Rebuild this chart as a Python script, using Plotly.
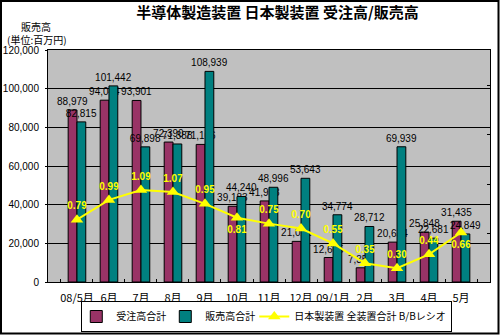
import plotly.graph_objects as go

months = ["08/5月", "6月", "7月", "8月", "9月", "10月", "11月", "12月",
          "09/1月", "2月", "3月", "4月", "5月"]
orders = [88979, 94044, 93901, 72390, 71166, 39183, 41938, 21021,
          12665, 7353, 20634, 25848, 31435]
sales = [82815, 101442, 69898, 71388, 108939, 44240, 48996, 53643,
         34774, 28712, 69939, 22681, 24849]
bb_ratio = [0.79, 0.99, 1.09, 1.07, 0.95, 0.81, 0.75, 0.70,
            0.55, 0.35, 0.30, 0.44, 0.66]
bb_label_pos = ["top center"] * 5 + ["bottom center"] + ["top center"] * 6 + ["bottom center"]

JP = "Noto Sans CJK JP"
NUM = "Liberation Sans, Arial"

fig = go.Figure()
fig.add_trace(go.Bar(
    x=months, y=orders, name="受注高合計",
    marker=dict(color="#993366", line=dict(color="black", width=1)),
    texttemplate="%{y:,}", textposition="outside", constraintext="none",
    textfont=dict(family=NUM, size=10, color="black"), cliponaxis=False,
))
fig.add_trace(go.Bar(
    x=months, y=sales, name="販売高合計",
    marker=dict(color="#008080", line=dict(color="black", width=1)),
    texttemplate="%{y:,}", textposition="outside", constraintext="none",
    textfont=dict(family=NUM, size=10, color="black"), cliponaxis=False,
))
fig.add_trace(go.Scatter(
    x=months, y=bb_ratio, name="日本製装置 全装置合計 B/Bレシオ",
    yaxis="y2", mode="lines+markers+text",
    line=dict(color="#FFFF00", width=2),
    marker=dict(symbol="triangle-up", size=11, color="#FFFF00"),
    texttemplate="<b>%{y:.2f}</b>", textposition=bb_label_pos,
    textfont=dict(family=NUM, size=10, color="#FFFF00"), cliponaxis=False,
))

pl, pr, pt, pb = 48, 490, 50, 282
pw, ph = pr - pl, pb - pt

fig.update_layout(
    width=500, height=335,
    margin=dict(l=pl, r=500 - pr, t=pt, b=335 - pb, autoexpand=False),
    paper_bgcolor="white", plot_bgcolor="#C0C0C0",
    barmode="group", bargap=0.45, bargroupgap=0,
    title=dict(text="<b>半導体製造装置 日本製装置 受注高/販売高</b>",
               font=dict(family=JP, size=15, color="black"),
               x=0.555, xanchor="center", xref="container",
               y=1 - 12.5 / 335, yanchor="middle", yref="container"),
    xaxis=dict(type="category", showline=True, linecolor="black", linewidth=1,
               mirror=True, ticks="inside", ticklen=3, tickcolor="black",
               tickson="boundaries", tickangle=0, automargin=False,
               ticklabelstandoff=6,
               tickfont=dict(family=JP, size=11, color="black"),
               showgrid=False),
    yaxis=dict(range=[0, 120000], dtick=20000, tickformat=",",
               showline=True, linecolor="black", linewidth=1, mirror=True,
               showgrid=True, gridcolor="black", gridwidth=1,
               ticks="outside", ticklen=2, tickcolor="black", automargin=False,
               ticklabelstandoff=4,
               tickfont=dict(family=NUM, size=10, color="black"),
               zeroline=False),
    yaxis2=dict(overlaying="y", side="right", range=[0.16, 2.505],
                tick0=0.15, dtick=0.5, ticks="inside", ticklen=3,
                tickcolor="black", showticklabels=False, showgrid=False,
                zeroline=False, showline=False, automargin=False),
    showlegend=True,
    legend=dict(orientation="h", x=0.495, xanchor="center",
                y=(pb - 332) / ph, yanchor="bottom", valign="middle",
                bgcolor="white", bordercolor="black", borderwidth=1,
                font=dict(family=JP, size=10, color="black"),
                itemwidth=30, tracegroupgap=0, indentation=-6),
    annotations=[
        dict(text="販売高", x=(36 - pl) / pw, y=(pb - 26) / ph,
             xanchor="center", yanchor="middle",
             xref="paper", yref="paper", showarrow=False,
             font=dict(family=JP, size=10, color="black")),
        dict(text="(単位:百万円)", x=(37 - pl) / pw, y=(pb - 39.5) / ph,
             xanchor="center", yanchor="middle",
             xref="paper", yref="paper", showarrow=False,
             font=dict(family=JP, size=10, color="black")),
    ],
)

# outer chart border
fig.add_shape(type="rect", xref="paper", yref="paper",
              x0=(1 - pl) / pw, x1=(498.5 - pl) / pw,
              y0=(pb - 333.5) / ph, y1=(pb - 1) / ph,
              line=dict(color="black", width=2), fillcolor="rgba(0,0,0,0)",
              layer="above")

fig.write_html("out.html")
